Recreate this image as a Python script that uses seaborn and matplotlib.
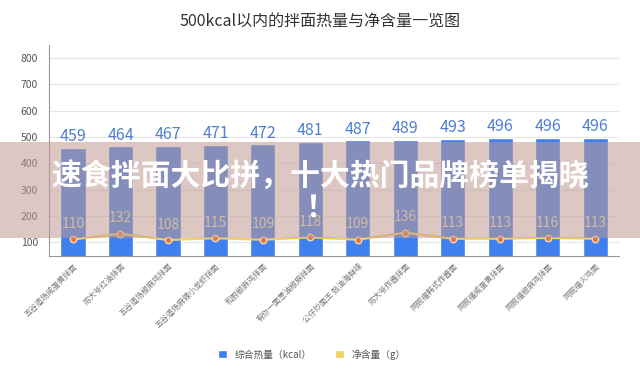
import matplotlib

matplotlib.use("Agg")
import matplotlib.pyplot as plt
import numpy as np
import pandas as pd
import seaborn as sns
from matplotlib.patches import Patch, Rectangle

# data
products = [
    "五谷道场咸蛋黄拌面",
    "陈大爷红油拌面",
    "五谷道场椒麻鸡拌面",
    "五谷道场麻辣小龙虾拌面",
    "和厨椒麻鸡拌面",
    "有你一面葱油椒麻拌面",
    "公仔炒面王 豉油海鲜味",
    "陈大爷炸酱拌面",
    "同碗福韩式炸酱面",
    "同碗福咸蛋黄拌面",
    "同碗福椒麻鸡拌面",
    "同碗福火鸡面",
]
calories = [459, 464, 467, 471, 472, 481, 487, 489, 493, 496, 496, 496]
net_weight = [110, 132, 108, 115, 109, 118, 109, 136, 113, 113, 116, 113]
y_ticks = [100, 200, 300, 400, 500, 600, 700, 800]

BAR_BLUE = "#3f7ff0"
LINE_YELLOW = "#f2d064"
DOT_ORANGE = "#e07a45"

df = pd.DataFrame({"product": products, "kcal": calories, "g": net_weight})
df["pos"] = np.arange(len(df))

sns.set_theme(style="white")
plt.rcParams["font.family"] = ["Noto Sans CJK SC", "DejaVu Sans"]

fig, ax = plt.subplots(figsize=(6.4, 3.81), dpi=100)
fig.subplots_adjust(left=0.077, right=0.967, top=0.882, bottom=0.328)

sns.barplot(data=df, x="product", y="kcal", color=BAR_BLUE, width=0.53,
            saturation=1, ax=ax)
for p, v in zip(ax.patches, df["kcal"]):
    ax.annotate(str(v), (p.get_x() + p.get_width() / 2, v), xytext=(0, 2),
                textcoords="offset points", ha="center", va="bottom",
                fontsize=11.5, color="#4f7fd0")

sns.lineplot(data=df, x="pos", y="g", color=LINE_YELLOW, linewidth=1.6, ax=ax)
sns.scatterplot(data=df, x="pos", y="g", color=DOT_ORANGE, s=22,
                edgecolor="#f6d9b0", linewidth=1.0, zorder=5, ax=ax)
for x, v in zip(df["pos"], df["g"]):
    ax.annotate(str(v), (x, v), xytext=(0, 6), textcoords="offset points",
                ha="center", va="bottom", fontsize=10, color="#efe2b8")

ax.set_xlim(-0.5, len(df) - 0.5)
ax.set_ylim(47, 850)
ax.set_yticks(y_ticks)
ax.set_xticks(df["pos"])
ax.set_xticklabels(products, rotation=45, ha="right", rotation_mode="anchor",
                   fontsize=5.7, color="#777777")
ax.tick_params(axis="y", labelsize=7.5, labelcolor="#555555", length=0, pad=8)
ax.tick_params(axis="x", length=0, pad=4)
ax.set_xlabel("")
ax.set_ylabel("")
ax.yaxis.grid(True, color="#e6e6e6", linewidth=0.8)
ax.set_axisbelow(True)
for side in ["top", "right"]:
    ax.spines[side].set_visible(False)
ax.spines["left"].set_color("#999999")
ax.spines["bottom"].set_color("#999999")
ax.spines["left"].set_linewidth(0.8)
ax.spines["bottom"].set_linewidth(0.8)

fig.text(0.5, 0.945, "500kcal以内的拌面热量与净含量一览图", ha="center",
         va="center", fontsize=11.5, color="#333333")

handles = [Patch(facecolor=BAR_BLUE, label="综合热量（kcal）"),
           Patch(facecolor=LINE_YELLOW, label="净含量（g）")]
fig.legend(handles=handles, loc="center", bbox_to_anchor=(0.488, 0.07), ncol=2,
           frameon=False, fontsize=7, handlelength=0.9, handleheight=0.9,
           columnspacing=2.4, labelcolor="#555555")

# banner overlay across the figure
fig.patches.append(Rectangle((0, 1 - 238 / 381), 1, 96 / 381,
                             transform=fig.transFigure, facecolor="#c09a90",
                             alpha=0.55, edgecolor="none", zorder=10))
fig.text(0.5, 1 - 192 / 381, "速食拌面大比拼，十大热门品牌榜单揭晓\n！",
         ha="center", va="center", fontsize=21.5, fontweight="bold",
         color="white", linespacing=1.1, zorder=11)

fig.savefig("out.png", dpi=100)
plt.close(fig)
